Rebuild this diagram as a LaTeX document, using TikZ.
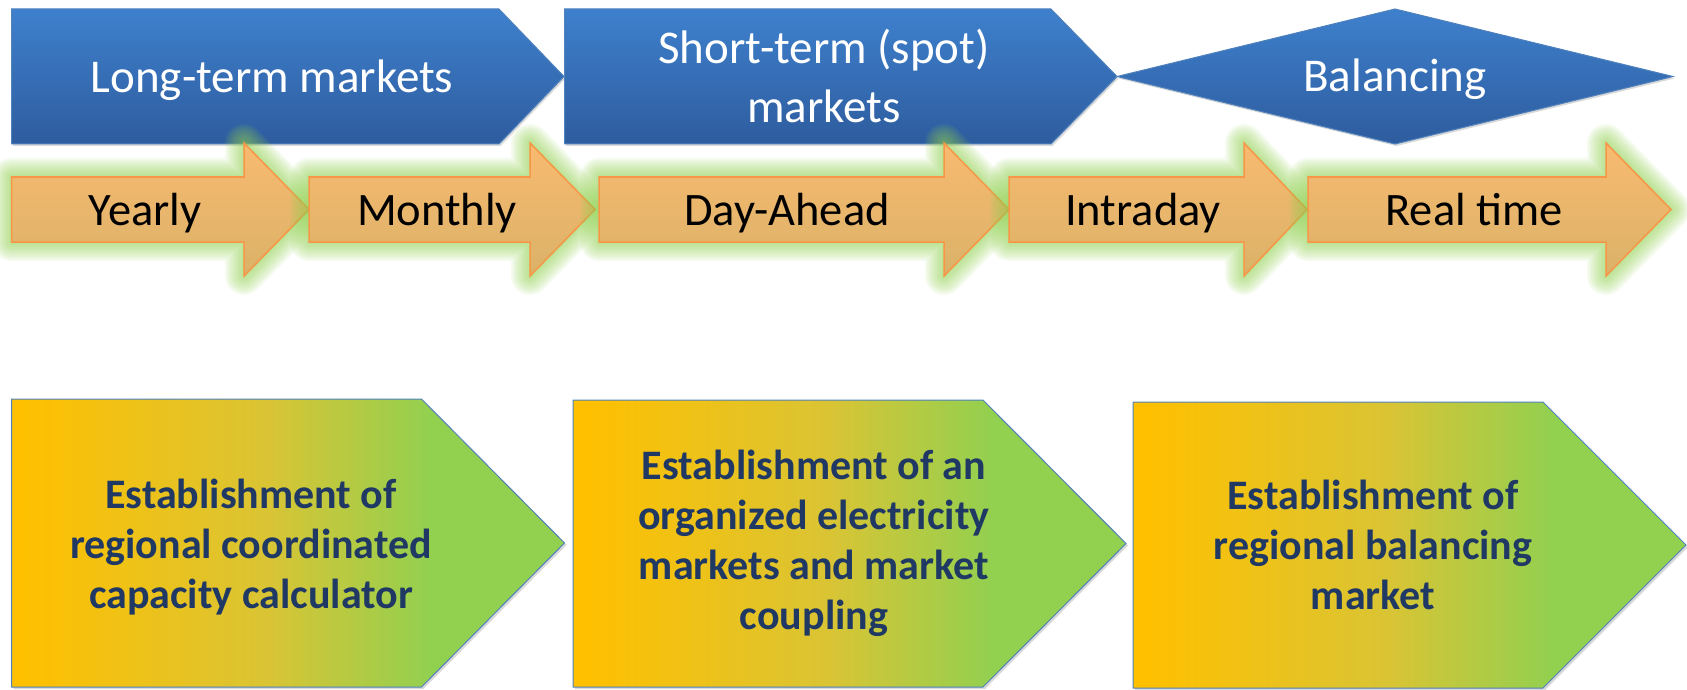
\documentclass[tikz,border=0pt]{standalone}
\usepackage{fontspec}
\setmainfont{Carlito}
\usetikzlibrary{shadows}
\definecolor{mbluetop}{RGB}{62,128,205}
\definecolor{mbluebot}{RGB}{46,92,158}
\definecolor{mblueline}{RGB}{79,129,189}
\definecolor{morangetop}{RGB}{248,186,112}
\definecolor{morangebot}{RGB}{218,178,104}
\definecolor{morangeline}{RGB}{247,150,70}
\definecolor{mglow}{RGB}{146,208,80}
\definecolor{mgold}{RGB}{255,192,0}
\definecolor{mmid}{RGB}{218,196,52}
\definecolor{mgreen}{RGB}{146,208,80}
\definecolor{mnavy}{RGB}{31,56,100}
\pgfdeclarehorizontalshading{taskshade}{100bp}{color(0bp)=(mgold); color(26bp)=(mgold);
  color(48bp)=(mmid); color(63bp)=(mgreen); color(100bp)=(mgreen)}
\tikzset{glowline/.style = {preaction={draw=mglow, draw opacity=0.09, line width=#1, line join=round}},
         greenglow/.style = {glowline=38pt, glowline=34pt, glowline=30pt, glowline=26pt, glowline=22pt,
                              glowline=18pt, glowline=14pt, glowline=10pt, glowline=6pt, glowline=3pt},
         phase/.style = {draw=mblueline, line width=1pt, top color=mbluetop, bottom color=mbluebot,
                         drop shadow={shadow xshift=1.5pt, shadow yshift=-2pt, opacity=0.3}},
         phaselabel/.style = {text=white, font=\fontsize{47}{59}\selectfont, align=center, inner sep=0pt},
         stepfill/.style = {greenglow, draw=morangeline, line width=1.5pt, line join=miter,
                            top color=morangetop, bottom color=morangebot},
         steplabel/.style = {text=black, font=\fontsize{46.5}{56}\selectfont, inner sep=0pt},
         taskbox/.style = {draw=mblueline, line width=1pt, shading=taskshade,
                           drop shadow={shadow xshift=2pt, shadow yshift=-2pt, opacity=0.3}},
         tasklabel/.style = {text=mnavy, font=\bfseries\fontsize{42}{50}\selectfont, align=center, inner sep=0pt}}

\begin{document}
\begin{tikzpicture}[x=1pt, y=-1pt]
  \useasboundingbox (0,0) rectangle (1687,690);

  % market phases
  \draw [phase] (11.5,9) -- (499,9) -- (564,76.5) -- (499,144) -- (11.5,144) -- cycle;
  \draw [phase] (564.5,9) -- (1051,9) -- (1117,76.5) -- (1051,144) -- (564.5,144) -- cycle;
  \draw [phase] (1117,76.5) -- (1395,9) -- (1673,76.5) -- (1395,144) -- cycle;
  \node [phaselabel, anchor=base] (longterm) at (272,93) {Long-term markets};
  \node [phaselabel] (shortterm) at (824,76) {Short-term (spot)\\markets};
  \node [phaselabel, anchor=base] (balancing) at (1395,92) {Balancing};

  % time frames
  \foreach \l/\h/\t/\x/\txt [count=\i] in {11.5/244/309/145/Yearly, 309/530/595/437/Monthly,
                                           599/944/1009/787/Day-Ahead, 1009/1244/1307/1143/Intraday,
                                           1308/1606/1671/1474/Real time} {
    \draw [stepfill] (\l,177) -- (\h,177) -- (\h,143) -- (\t,209.5) -- (\h,276) -- (\h,242) -- (\l,242) -- cycle;
    \node [steplabel, anchor=base] (step\i) at (\x,225) {\txt};
  }

  % tasks
  \foreach \l/\top/\bot/\x/\y/\txt [count=\i] in {11.5/399/687/251/547.5/{Establishment of\\regional coordinated\\capacity calculator},
                                                  573/400/687/814/543/{Establishment of an\\organized electricity\\markets and market\\coupling},
                                                  1133/402/688/1373/545/{Establishment of\\regional balancing\\market}} {
    \draw [taskbox] (\l,\top) -- ({\l+410},\top) -- ({\l+553},{(\top+\bot)/2}) -- ({\l+410},\bot) -- (\l,\bot) -- cycle;
    \node [tasklabel] (task\i) at (\x,\y) {\txt};
  }
\end{tikzpicture}
\end{document}
